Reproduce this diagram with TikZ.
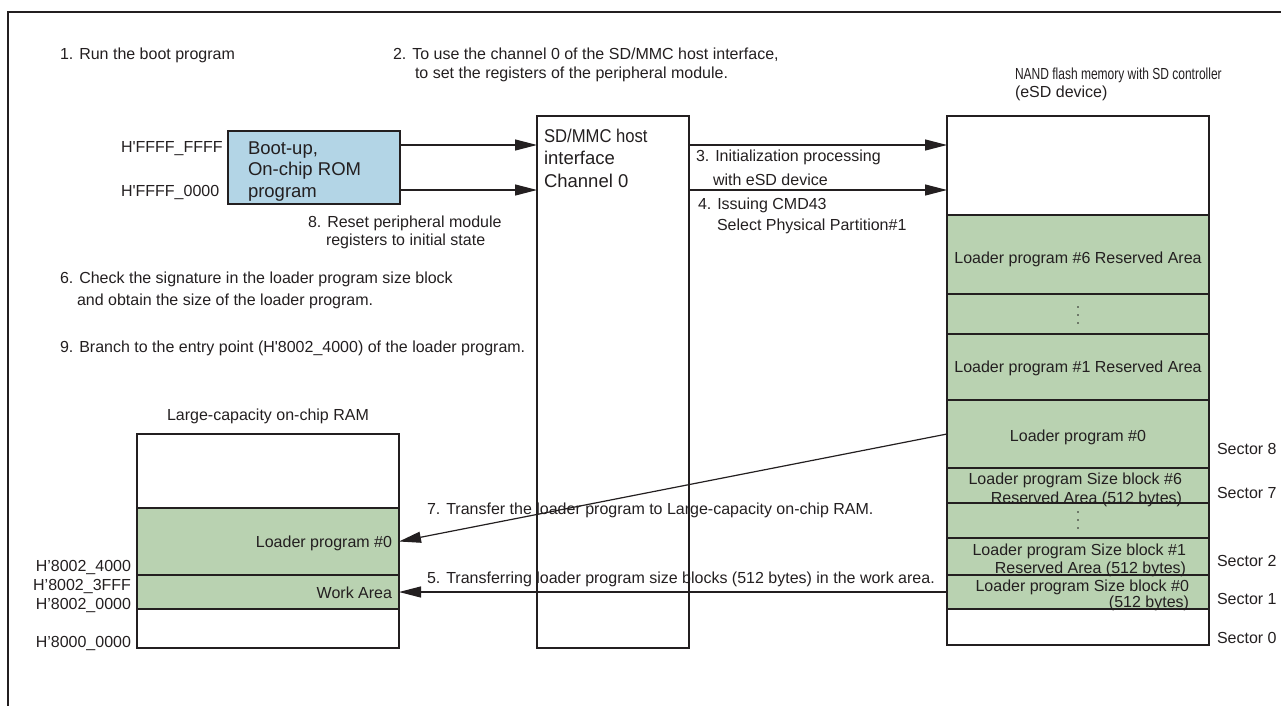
\documentclass[tikz,border=0pt]{standalone}
\usepackage{fontspec}
\setmainfont{Liberation Sans}
\usetikzlibrary{arrows.meta}
\definecolor{ink}{HTML}{231F20}
\definecolor{romblue}{HTML}{B3D5E6}
\definecolor{memgreen}{HTML}{B9D2B1}
\begin{document}
\begin{tikzpicture}[x=1pt,y=-1pt,
  blk/.style={draw=ink, line width=1.9pt, inner sep=0pt, outer sep=0pt, anchor=north west},
  grn/.style={blk, fill=memgreen},
  wht/.style={blk, fill=white},
  txt/.style={text=ink, inner sep=0pt, outer sep=0pt, anchor=base west, align=left,
              font=\fontsize{16}{19}\selectfont},
  rtxt/.style={txt, anchor=base east, align=right},
  ctxt/.style={txt, anchor=base, align=center},
  big/.style={font=\fontsize{18.5}{21.5}\selectfont},
  arr/.style={draw=ink, line width=1.2pt, -{Triangle[length=22pt,width=11pt]}},
  dot/.style={fill=ink}]
\useasboundingbox (0,0) rectangle (1281,706);

% frame
\draw[ink, line width=2.5pt] (8,706) -- (8,12) -- (1281,12);

% boot ROM and SD/MMC host interface
\node[blk, fill=romblue, minimum width=172, minimum height=73] (rom) at (228,131) {};
\node[blk, minimum width=152, minimum height=532] (host) at (537,116) {};

% eSD device memory map
\node[wht, minimum width=262, minimum height=99] (etop)  at (947,116) {};
\node[grn, minimum width=262, minimum height=79] (r6)    at (947,215) {};
\node[grn, minimum width=262, minimum height=40] (rdots) at (947,294) {};
\node[grn, minimum width=262, minimum height=66] (r1)    at (947,334) {};
\node[grn, minimum width=262, minimum height=68] (l0)    at (947,400) {};
\node[grn, minimum width=262, minimum height=35] (s6)    at (947,468) {};
\node[grn, minimum width=262, minimum height=35] (sdots) at (947,503) {};
\node[grn, minimum width=262, minimum height=37] (s1)    at (947,538) {};
\node[grn, minimum width=262, minimum height=34] (s0)    at (947,575) {};
\node[wht, minimum width=262, minimum height=36] (sec0)  at (947,609) {};

% on-chip RAM memory map
\node[wht, minimum width=262, minimum height=74] (rtop)  at (137,434) {};
\node[grn, minimum width=262, minimum height=67] (rload) at (137,508) {};
\node[grn, minimum width=262, minimum height=34] (rwork) at (137,575) {};
\node[wht, minimum width=262, minimum height=39] (rbot)  at (137,609) {};

% ellipsis marks
\foreach \yy in {307,315,323} \fill[dot] (1078,\yy) circle (0.9);
\foreach \yy in {512,520,528} \fill[dot] (1078,\yy) circle (0.9);

% box contents (multi-line nodes are placed by their last baseline)
\node[txt, big] (romtxt) at (248,197) {Boot-up,\\On-chip ROM\\program};
\node[txt, font=\fontsize{18.5}{22.5}\selectfont] (hosttxt) at (544,187) {\scalebox{0.9}[1]{SD/MMC host}\\interface\\Channel 0};

\node[ctxt] (r6txt) at (1078,263) {Loader program \#6 Reserved Area};
\node[ctxt] (r1txt) at (1078,372) {Loader program \#1 Reserved Area};
\node[ctxt] (l0txt) at (1078,441) {Loader program \#0};
\node[rtxt] (s6txt) at (1182,503) {Loader program Size block \#6\\Reserved Area (512 bytes)};
\node[rtxt, font=\fontsize{16}{18}\selectfont] (s1txt) at (1186,573) {Loader program Size block \#1\\Reserved Area (512 bytes)};
\node[rtxt, font=\fontsize{16}{16}\selectfont] (s0txt) at (1189,607) {Loader program Size block \#0\\(512 bytes)};

\node[rtxt] (rloadtxt) at (392,547) {Loader program \#0};
\node[rtxt] (rworktxt) at (392,598) {Work Area};

% addresses and sectors
\node[txt] (aFFFF) at (121,152) {H\textquotesingle FFFF\_FFFF};
\node[txt] (a0000) at (121,196) {H\textquotesingle FFFF\_0000};
\node[rtxt] (a4000) at (131,571) {H'8002\_4000};
\node[rtxt] (a3FFF) at (131,590) {H'8002\_3FFF};
\node[rtxt] (a2000) at (131,609) {H'8002\_0000};
\node[rtxt] (a8000) at (131,647) {H'8000\_0000};

\node[txt] (sc8) at (1217,454) {Sector 8};
\node[txt] (sc7) at (1217,498) {Sector 7};
\node[txt] (sc2) at (1217,566) {Sector 2};
\node[txt] (sc1) at (1217,604) {Sector 1};
\node[txt] (sc0) at (1217,643) {Sector 0};

% titles
\node[txt, font=\fontsize{16}{18}\selectfont] (esdtitle) at (1015,98) {\scalebox{0.75}[1]{NAND flash memory with SD controller}\\(eSD device)};
\node[ctxt] (ramtitle) at (268,420) {Large-capacity on-chip RAM};

% step descriptions
\node[txt] (t1) at (60,60) {1. Run the boot program};
\node[txt] (t2) at (393,79) {2. To use the channel 0 of the SD/MMC host interface,\\\hspace*{22pt}to set the registers of the peripheral module.};
\node[txt, font=\fontsize{16}{24}\selectfont] (t3) at (696,185) {3. Initialization processing\\\hspace*{17pt}with eSD device};
\node[txt, font=\fontsize{16}{21}\selectfont] (t4) at (698,230) {4. Issuing CMD43\\\hspace*{19pt}Select Physical Partition\#1};
\node[txt, font=\fontsize{16}{18}\selectfont] (t8) at (308,245) {8. Reset peripheral module\\\hspace*{18pt}registers to initial state};
\node[txt, font=\fontsize{16}{22}\selectfont] (t6) at (60,305) {6. Check the signature in the loader program size block\\\hspace*{17pt}and obtain the size of the loader program.};
\node[txt] (t9) at (60,352) {9. Branch to the entry point (H\textquotesingle 8002\_4000) of the loader program.};
\node[txt] (t7) at (427,514) {7. Transfer the loader program to Large-capacity on-chip RAM.};
\node[txt] (t5) at (427,583) {5. Transferring loader program size blocks (512 bytes) in the work area.};

% connectors
\coordinate (ya) at (0,145);
\coordinate (yb) at (0,190);
\draw[arr] (rom.east |- ya) -- (host.west |- ya);
\draw[arr] (rom.east |- yb) -- (host.west |- yb);
\draw[arr] (host.east |- ya) -- (etop.west |- ya);
\draw[arr] (host.east |- yb) -- (etop.west |- yb);
\draw[arr] (l0.west) -- (rload.east);
\draw[arr] (s0.west) -- (rwork.east);
\end{tikzpicture}
\end{document}
